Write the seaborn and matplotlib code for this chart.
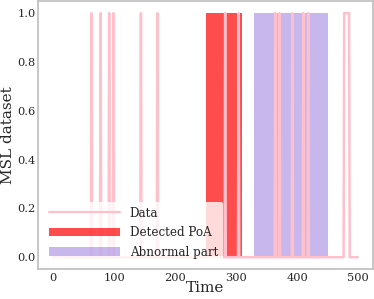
import numpy as np
import pandas as pd
import matplotlib
matplotlib.use("Agg")
import matplotlib.pyplot as plt
import seaborn as sns
from matplotlib.patches import Patch

# ---- data ----
n_points = 500
# segments (start, end) where the series is 1
on_segments = [(63, 63), (78, 78), (92, 92), (99, 99), (144, 144), (171, 171),
               (282, 282), (304, 304), (364, 364), (371, 371), (392, 392),
               (410, 410), (418, 418), (477, 485)]
detected_poa = (250, 310)
abnormal_part = (330, 450)
y_ticks = [0.0, 0.2, 0.4, 0.6, 0.8, 1.0]
x_ticks = [0, 100, 200, 300, 400, 500]
legend_labels = ["Data", "Detected PoA", "Abnormal part"]

time = np.arange(n_points)
values = np.zeros(n_points)
for s, e in on_segments:
    values[s:e + 1] = 1.0
df = pd.DataFrame({"Time": time, "value": values})

sns.set_style("white")
plt.rcParams['font.family'] = ['DejaVu Serif']

fig = plt.figure(figsize=(3.74, 2.99), dpi=100)
ax = fig.add_axes([0.101, 0.099, 0.896, 0.898])

ax.fill_between(list(detected_poa), 0, 1, color="red", alpha=0.7, lw=0, zorder=1)
ax.fill_between(list(abnormal_part), 0, 1, color="mediumpurple", alpha=0.5, lw=0, zorder=1)
sns.lineplot(data=df, x="Time", y="value", color="pink", lw=1.8, ax=ax, zorder=2)

ax.set_xlim(-24.95, 523.95)
ax.set_ylim(-0.05, 1.05)
ax.set_yticks(y_ticks)
ax.set_yticklabels([f"{v:.1f}" for v in y_ticks])
ax.set_xticks(x_ticks)
ax.tick_params(labelsize=8.2, colors="#262626", length=0)
ax.tick_params(axis="y", pad=1.5)
ax.tick_params(axis="x", pad=2.5)
ax.set_xlabel("Time", fontsize=11, labelpad=-1)
ax.set_ylabel("MSL dataset", fontsize=11, labelpad=1.5)
for sp in ax.spines.values():
    sp.set_color("#bdbdbd")
    sp.set_linewidth(1.2)

handles = [plt.Line2D([], [], color="pink", lw=1.6),
           Patch(facecolor="red", alpha=0.7, lw=0),
           Patch(facecolor="mediumpurple", alpha=0.5, lw=0)]
leg = ax.legend(handles, legend_labels, loc="lower left", fontsize=8.6,
                handlelength=6, frameon=True, framealpha=0.8,
                edgecolor="none", facecolor="white", labelspacing=0.55)

fig.savefig("out.png", dpi=100)
